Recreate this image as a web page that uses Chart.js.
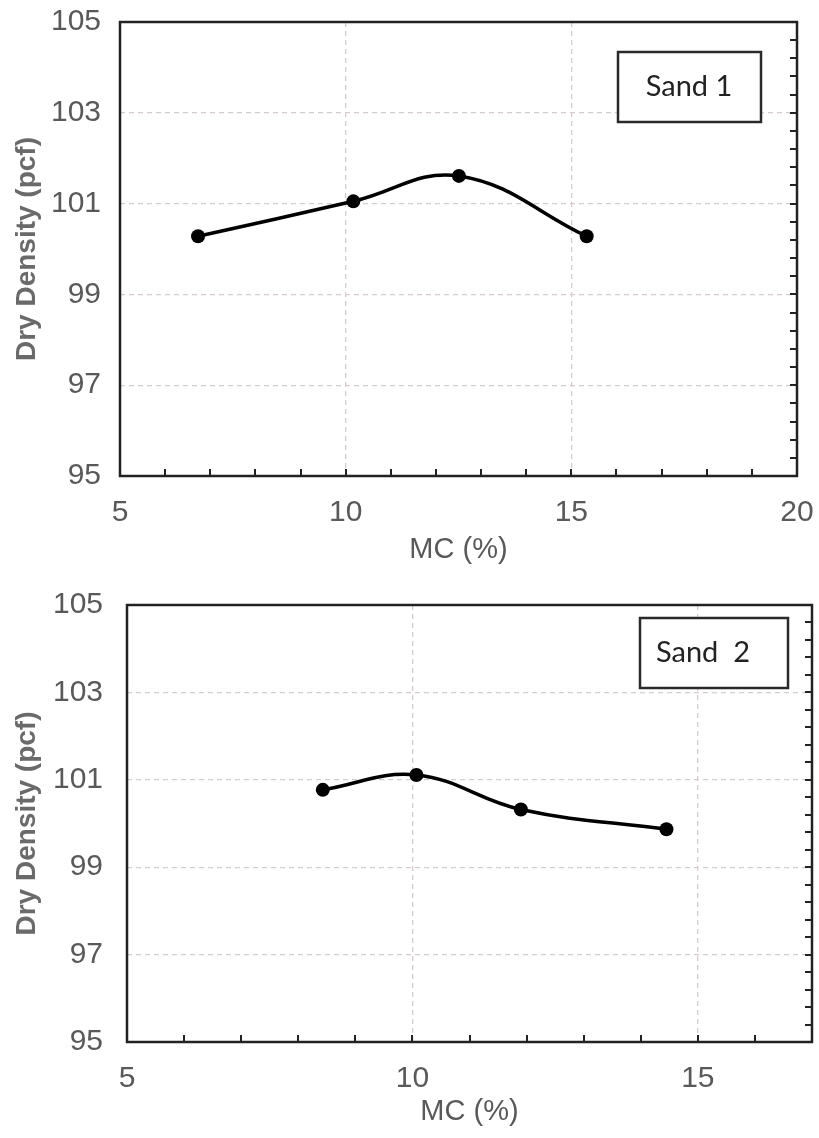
<!DOCTYPE html>
<html><head><meta charset="utf-8">
<script src="https://cdn.jsdelivr.net/npm/chart.js@4.4.1/dist/chart.umd.min.js"></script>
<style>
html,body{margin:0;padding:0;background:#fff;width:819px;height:1138px;overflow:hidden;}
canvas{position:absolute;left:0;}
#c1{top:0;}
#c2{top:570px;}
</style></head><body>
<canvas id="c1" width="819" height="570"></canvas>
<canvas id="c2" width="819" height="568"></canvas>
<script>
// ---- data ----
const sand1MC = [6.73, 10.17, 12.51, 15.34];
const sand1Density = [100.28, 101.05, 101.61, 100.28];
const sand2MC = [8.43, 10.07, 11.90, 14.45];
const sand2Density = [100.77, 101.11, 100.32, 99.87];
const yTickValues = [95, 97, 99, 101, 103, 105];
const yGridValues = [97, 99, 101, 103];
const sand1XLabels = [5, 10, 15, 20];
const sand2XLabels = [5, 10, 15];
const xGridValues = [10, 15];
const xMinorStep = 1;
const yMinorStep = 0.4;

const tickFont = {family: "'Liberation Sans', Arial, sans-serif", size: 30};
const tickColor = '#595959';
const gridColor = '#d6cccc';
const frameColor = '#222';

function zeroPad(s) { s.paddingTop = 0; s.paddingBottom = 0; s.paddingLeft = 0; s.paddingRight = 0; }

const framePlugin = {
  id: 'frameBox',
  afterDraw(chart, args, opts) {
    const ctx = chart.ctx, a = chart.chartArea;
    const xs = chart.scales.x, ys = chart.scales.y;
    ctx.save();
    ctx.strokeStyle = frameColor;
    ctx.lineWidth = 2.5;
    ctx.strokeRect(a.left, a.top, a.right - a.left, a.bottom - a.top);
    // minor ticks, bottom axis (inward)
    ctx.lineWidth = 2;
    ctx.beginPath();
    const nx = Math.round((xs.max - xs.min) / xMinorStep);
    for (let k = 1; k < nx; k++) {
      const px = Math.round(xs.getPixelForValue(xs.min + k * xMinorStep));
      ctx.moveTo(px, a.bottom);
      ctx.lineTo(px, a.bottom - 7);
    }
    // minor ticks, right axis (inward)
    const ny = Math.round((ys.max - ys.min) / yMinorStep);
    for (let k = 1; k < ny; k++) {
      const py = Math.round(ys.getPixelForValue(ys.min + k * yMinorStep));
      ctx.moveTo(a.right, py);
      ctx.lineTo(a.right - 7, py);
    }
    ctx.stroke();
    // label box
    const b = opts.box;
    ctx.fillStyle = '#fff';
    ctx.fillRect(b[0], b[1], b[2], b[3]);
    ctx.strokeStyle = '#2a2a2a';
    ctx.lineWidth = 2.5;
    ctx.strokeRect(b[0], b[1], b[2], b[3]);
    ctx.fillStyle = '#222';
    ctx.font = "29px Lato, 'Open Sans', sans-serif";
    ctx.textAlign = 'center';
    ctx.textBaseline = 'middle';
    ctx.fillText(opts.text, opts.textX, b[1] + b[3] / 2);
    ctx.restore();
  }
};

function makeChart(id, mc, dens, cfg) {
  return new Chart(document.getElementById(id), {
    type: 'line',
    data: {
      datasets: [{
        data: mc.map((v, i) => ({x: v, y: dens[i]})),
        borderColor: '#000',
        borderWidth: 3.5,
        pointRadius: 7,
        pointBackgroundColor: '#000',
        pointBorderColor: '#000',
        pointBorderWidth: 0,
        tension: 0.4,
        fill: false
      }]
    },
    options: {
      responsive: false,
      animation: false,
      devicePixelRatio: 1,
      layout: {padding: {top: cfg.padTop, right: cfg.padRight, left: 0, bottom: 0}},
      plugins: {
        legend: {display: false},
        tooltip: {enabled: false},
        frameBox: {box: cfg.box, text: cfg.text, textX: cfg.textX}
      },
      scales: {
        x: {
          type: 'linear',
          min: 5, max: cfg.xMax,
          afterBuildTicks: s => {
            const t = [];
            for (let v = s.min; v <= s.max; v += xMinorStep) t.push({value: v});
            s.ticks = t;
          },
          afterFit: s => { s.height = cfg.xAxisHeight; zeroPad(s); },
          ticks: {
            autoSkip: false, maxRotation: 0, padding: 19,
            font: tickFont, color: tickColor,
            callback: v => cfg.xLabels.includes(v) ? String(v) : ''
          },
          grid: {
            drawTicks: false, lineWidth: 1.3,
            color: c => (c.tick && xGridValues.includes(c.tick.value)) ? gridColor : 'rgba(0,0,0,0)'
          },
          border: {display: false, dash: [5, 4]},
          title: {
            display: true, text: 'MC (%)', color: tickColor,
            font: {family: "'Liberation Sans', Arial, sans-serif", size: 29},
            padding: {top: 0, bottom: cfg.xTitlePad}
          }
        },
        y: {
          type: 'linear',
          min: 95, max: 105,
          afterBuildTicks: s => { s.ticks = yTickValues.map(v => ({value: v})); },
          afterFit: s => { s.width = cfg.yAxisWidth; zeroPad(s); },
          ticks: {padding: cfg.yTickPad, font: tickFont, color: tickColor},
          grid: {
            drawTicks: false, lineWidth: 1.3,
            color: c => (c.tick && yGridValues.includes(c.tick.value)) ? gridColor : 'rgba(0,0,0,0)'
          },
          border: {display: false, dash: [5, 4]},
          title: {
            display: true, text: 'Dry Density (pcf)', color: '#6a6a6a',
            font: {family: "'Liberation Sans', Arial, sans-serif", size: 28, weight: 'bold'},
            padding: {top: 10, bottom: 0}
          }
        }
      }
    },
    plugins: [framePlugin]
  });
}

makeChart('c1', sand1MC, sand1Density, {
  xMax: 20, xLabels: sand1XLabels, padTop: 22, padRight: 22,
  xAxisHeight: 94, yAxisWidth: 120, yTickPad: 19, xTitlePad: 3,
  box: [618, 52, 143, 70], text: 'Sand 1', textX: 689
});
makeChart('c2', sand2MC, sand2Density, {
  xMax: 17, xLabels: sand2XLabels, padTop: 35, padRight: 6,
  xAxisHeight: 96, yAxisWidth: 127, yTickPad: 24, xTitlePad: 9,
  box: [640, 48, 148, 70], text: 'Sand  2', textX: 703
});
</script>
</body></html>
